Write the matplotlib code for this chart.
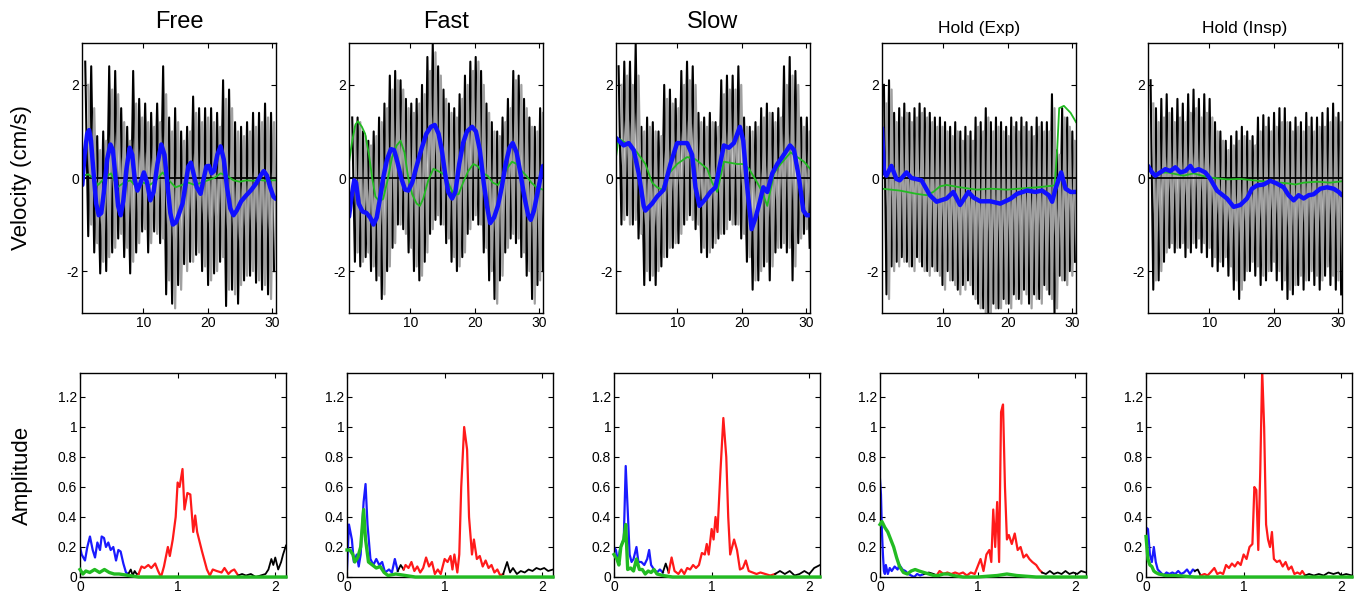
import numpy as np
import matplotlib.pyplot as plt

plt.rcParams['font.family'] = ['Liberation Sans', 'DejaVu Sans']
plt.rcParams['axes.unicode_minus'] = False

TITLES = ['Free', 'Fast', 'Slow', 'Hold (Exp)', 'Hold (Insp)']
TITLE_SIZES = [17, 17, 17, 12.5, 12.5]

# beat grid of the raw velocity trace (first beat, beat period in s)
BEAT_START = [1.0, 1.0, 0.9, 0.8, 0.9]
BEAT_PERIOD = [0.93, 0.833, 0.885, 0.79, 0.833]

# ---------------- raw velocity, beat by beat ----------------
FREE_BLACK_PEAK = [2.5, 2.4, 0.9, 1.0, 2.4, 2.3, 1.5, 1.1, 2.3, 1.7, 1.6, 1.4, 1.6, 2.4, 1.3, 1.5,
                   1.0, 1.1, 1.75, 1.5, 1.5, 1.5, 1.4, 2.1, 1.9, 1.2, 1.1, 1.2, 1.4, 1.4, 1.6, 1.4]
FREE_BLACK_TROUGH = [-1.25, -1.6, -2.05, -2.0, -1.6, -1.3, -1.7, -2.05, -1.6, -1.15, -1.6, -1.15, -1.4, -2.5,
                     -2.7, -2.3, -1.85, -1.8, -1.65, -2.0, -2.3, -2.05, -1.8, -2.75, -2.4, -2.7, -2.2, -2.1,
                     -2.25, -2.4, -2.5, -2.0]
FREE_GRAY_PEAK = [2.0, 1.5, 0.6, 0.8, 1.9, 1.8, 1.2, 0.8, 1.6, 1.3, 1.2, 1.1, 1.2, 1.8, 1.0, 1.2,
                  0.8, 1.0, 1.4, 1.2, 1.3, 1.2, 1.1, 1.7, 1.5, 1.0, 0.9, 1.0, 1.1, 1.2, 1.3, 1.2]
FREE_GRAY_TROUGH = [-1.0, -1.4, -1.8, -1.7, -1.5, -1.2, -1.5, -1.8, -1.4, -1.1, -1.4, -1.2, -1.3, -2.2,
                    -2.8, -2.4, -2.0, -1.8, -1.6, -1.9, -2.2, -2.0, -1.7, -2.4, -2.5, -2.3, -2.1, -2.0,
                    -2.2, -2.3, -2.6, -2.2]

FAST_BLACK_PEAK = [1.3, 1.3, 1.0, 0.8, 1.0, 1.3, 1.6, 2.2, 2.3, 2.1, 1.7, 1.6, 1.7, 2.0, 2.6, 2.9, 2.4, 1.9,
                   1.6, 1.5, 1.8, 2.2, 2.5, 2.6, 2.3, 1.6, 1.2, 1.0, 1.3, 1.7, 2.3, 2.2, 1.7, 1.3, 1.1, 1.5]
FAST_BLACK_TROUGH = [-1.8, -1.9, -1.7, -2.0, -2.2, -2.6, -2.0, -1.5, -1.0, -1.1, -1.6, -2.0, -2.2, -1.8,
                     -1.2, -0.9, -1.0, -1.4, -1.8, -2.0, -1.7, -1.2, -0.9, -1.0, -1.6, -2.2, -2.6, -2.2,
                     -1.6, -1.3, -1.4, -1.7, -2.1, -2.6, -2.3, -2.0]
FAST_GRAY_PEAK = [1.1, 1.2, 0.9, 0.7, 0.9, 1.2, 1.5, 1.9, 2.1, 1.9, 1.5, 1.4, 1.6, 1.8, 2.3, 2.7, 2.2, 1.7,
                  1.4, 1.3, 1.7, 2.0, 2.3, 2.5, 2.0, 1.4, 1.0, 0.9, 1.2, 1.5, 2.1, 2.0, 1.5, 1.1, 1.0, 1.4]
FAST_GRAY_TROUGH = [-1.6, -1.8, -1.6, -1.9, -2.1, -2.5, -1.9, -1.4, -1.0, -1.2, -1.5, -1.9, -2.1, -1.6,
                    -1.1, -0.8, -1.0, -1.3, -1.7, -1.9, -1.6, -1.1, -0.8, -1.0, -1.5, -2.0, -2.7, -2.1,
                    -1.5, -1.2, -1.3, -1.6, -2.0, -2.7, -2.2, -1.9]

SLOW_BLACK_PEAK = [2.4, 2.5, 2.5, 2.9, 1.1, 1.3, 1.2, 1.0, 2.0, 1.9, 1.7, 2.3, 2.5, 2.4, 1.4, 1.3, 1.4,
                   1.2, 2.1, 2.2, 2.2, 2.4, 1.3, 1.1, 1.2, 1.5, 1.6, 1.4, 1.5, 2.4, 2.6, 2.3, 1.3, 1.3]
SLOW_BLACK_TROUGH = [-1.0, -0.8, -1.0, -1.3, -2.3, -2.2, -2.3, -1.9, -1.7, -1.5, -1.4, -1.0, -0.8, -1.1,
                     -1.6, -1.7, -1.5, -1.3, -1.2, -0.9, -1.0, -1.3, -1.8, -2.4, -2.2, -1.9, -2.2, -1.6,
                     -1.5, -1.6, -2.2, -1.4, -1.2, -1.5]
SLOW_GRAY_PEAK = [2.0, 2.2, 2.0, 2.2, 1.0, 1.1, 1.0, 0.9, 1.7, 1.6, 1.5, 2.0, 2.1, 2.0, 1.2, 1.1, 1.2,
                  1.1, 1.8, 1.9, 1.9, 2.0, 1.1, 1.0, 1.1, 1.3, 1.4, 1.2, 1.3, 2.0, 2.2, 2.0, 1.1, 1.0]
SLOW_GRAY_TROUGH = [-0.9, -1.0, -0.9, -1.2, -2.0, -2.1, -2.0, -1.7, -1.5, -1.4, -1.2, -0.9, -0.9, -1.0,
                    -1.5, -1.6, -1.4, -1.2, -1.1, -1.0, -1.0, -1.2, -1.7, -2.2, -2.0, -1.8, -1.9, -1.5,
                    -1.4, -1.5, -1.9, -1.3, -1.1, -1.4]

EXP_BLACK_PEAK = [2.0, 2.1, 1.4, 1.5, 1.6, 1.4, 1.5, 1.6, 1.5, 1.4, 1.3, 1.3, 1.2, 1.1, 1.2, 1.0, 1.1, 1.0,
                  1.3, 1.2, 1.5, 1.2, 1.3, 1.2, 1.1, 1.3, 1.2, 1.3, 1.2, 1.1, 1.3, 1.2, 1.2, 1.8, 0.6, 1.5,
                  1.3, 1.0]
EXP_BLACK_TROUGH = [-2.5, -1.9, -1.8, -1.7, -1.8, -1.9, -1.7, -1.9, -2.0, -1.9, -2.0, -2.3, -2.0, -2.2,
                    -2.4, -2.3, -2.2, -2.5, -2.7, -2.8, -2.9, -2.7, -2.8, -2.6, -2.7, -2.5, -2.6, -2.4,
                    -2.7, -2.5, -2.6, -2.3, -2.5, -2.9, -2.1, -2.2, -2.0, -1.8]
EXP_GRAY_PEAK = [1.6, 1.9, 1.2, 1.3, 1.4, 1.2, 1.3, 1.4, 1.3, 1.2, 1.1, 1.1, 1.0, 0.9, 1.0, 0.8, 0.9, 0.8,
                 1.1, 1.0, 1.3, 1.0, 1.1, 1.0, 0.9, 1.1, 1.0, 1.1, 1.0, 0.9, 1.1, 1.0, 1.0, 1.5, 0.5, 1.3,
                 1.1, 0.8]
EXP_GRAY_TROUGH = [-2.6, -2.0, -1.9, -1.8, -1.9, -2.0, -1.8, -2.0, -2.1, -2.0, -2.1, -2.4, -2.2, -2.3,
                   -2.5, -2.4, -2.3, -2.6, -2.8, -2.9, -2.9, -2.8, -2.8, -2.7, -2.8, -2.6, -2.7, -2.5,
                   -2.8, -2.6, -2.7, -2.4, -2.6, -2.8, -2.2, -2.3, -2.1, -1.9]

INSP_BLACK_PEAK = [2.1, 1.5, 1.7, 1.8, 1.5, 1.7, 1.6, 1.8, 1.9, 1.7, 1.8, 1.7, 1.2, 1.0, 0.8, 0.9, 1.0, 1.1,
                   1.0, 0.9, 1.3, 1.35, 1.3, 1.4, 1.5, 1.5, 1.2, 1.3, 1.2, 1.4, 1.3, 1.3, 1.4, 1.5, 1.6, 1.4]
INSP_BLACK_TROUGH = [-2.4, -2.2, -1.8, -1.5, -1.6, -1.5, -1.7, -1.6, -1.5, -1.6, -1.7, -1.9, -2.0, -1.9,
                     -2.1, -2.4, -2.6, -2.2, -2.0, -2.1, -2.3, -2.2, -2.0, -2.2, -2.4, -2.6, -2.5, -2.3,
                     -2.4, -2.2, -2.3, -2.4, -2.1, -2.3, -2.4, -2.5]
INSP_GRAY_PEAK = [1.6, 1.2, 1.3, 1.4, 1.2, 1.3, 1.2, 1.4, 1.5, 1.3, 1.4, 1.3, 1.0, 0.8, 0.6, 0.7, 0.8, 0.9,
                  0.8, 0.7, 1.0, 1.1, 1.0, 1.1, 1.2, 1.2, 1.0, 1.1, 1.0, 1.1, 1.0, 1.1, 1.1, 1.2, 1.3, 1.2]
INSP_GRAY_TROUGH = [-2.2, -2.0, -1.6, -1.4, -1.5, -1.4, -1.5, -1.4, -1.3, -1.4, -1.5, -1.7, -1.8, -1.7,
                    -1.9, -2.2, -2.4, -2.0, -1.8, -1.9, -2.1, -2.0, -1.8, -2.0, -2.2, -2.4, -2.3, -2.1,
                    -2.2, -2.0, -2.1, -2.2, -1.9, -2.1, -2.2, -2.3]

# ---------------- low-pass (blue) and green traces: (time s, velocity) ----------------
FREE_BLUE = np.array([
    [0.55, -0.15], [0.9, 0.5], [1.3, 0.95], [1.6, 1.03], [1.9, 0.8], [2.3, 0.1], [2.7, -0.55], [3.1, -0.8],
    [3.5, -0.75], [3.9, -0.3], [4.4, 0.4], [4.9, 0.72], [5.3, 0.6], [5.7, 0.0], [6.1, -0.6], [6.5, -0.8],
    [6.9, -0.5], [7.4, 0.2], [7.9, 0.65], [8.3, 0.5], [8.7, -0.05], [9.1, -0.27], [9.6, -0.1], [10.1, 0.12],
    [10.6, -0.1], [11.1, -0.48], [11.6, -0.3], [12.2, 0.3], [12.8, 0.72], [13.3, 0.5], [13.8, -0.2],
    [14.2, -0.75], [14.6, -1.0], [15.1, -0.95], [15.6, -0.75], [16.1, -0.55], [16.6, -0.1], [17.0, 0.25],
    [17.4, 0.33], [17.8, 0.1], [18.3, -0.2], [18.9, -0.34], [19.4, 0.0], [19.8, 0.25], [20.2, 0.26],
    [20.6, 0.1], [21.0, 0.15], [21.5, 0.5], [22.0, 0.68], [22.5, 0.4], [23.0, -0.2], [23.5, -0.65],
    [24.0, -0.8], [24.5, -0.7], [25.2, -0.5], [26.0, -0.37], [26.8, -0.25], [27.6, -0.1], [28.2, 0.05],
    [28.7, 0.15], [29.2, 0.05], [29.7, -0.2], [30.2, -0.4], [30.6, -0.45]])
FREE_GREEN = np.array([
    [0.6, 0.05], [1.5, 0.08], [2.2, 0.0], [3.0, -0.15], [4.0, 0.0], [5.0, 0.1], [6.0, -0.2], [7.0, -0.1],
    [8.0, -0.05], [9.0, -0.2], [10.0, -0.1], [11.0, -0.15], [12.0, -0.05], [13.0, 0.12], [14.0, -0.05],
    [15.0, -0.2], [16.0, -0.15], [17.0, -0.1], [18.0, -0.15], [19.0, -0.1], [20.0, -0.05], [21.0, 0.0],
    [22.0, 0.1], [23.0, 0.05], [24.0, -0.05], [25.0, -0.08], [26.0, -0.05], [27.0, -0.06], [28.0, -0.04],
    [29.0, -0.06], [30.0, -0.05], [30.6, -0.05]])

FAST_BLUE = np.array([
    [0.5, -0.83], [0.9, -0.4], [1.3, -0.05], [1.6, -0.1], [2.0, -0.55], [2.6, -0.72], [3.2, -0.75],
    [3.8, -0.85], [4.3, -1.0], [4.8, -0.85], [5.3, -0.45], [5.8, 0.0], [6.4, 0.4], [7.0, 0.62], [7.5, 0.6],
    [8.0, 0.35], [8.6, 0.0], [9.2, -0.25], [9.7, -0.27], [10.3, -0.1], [11.0, 0.26], [11.8, 0.65],
    [12.5, 0.95], [13.2, 1.1], [13.8, 1.14], [14.4, 0.95], [14.9, 0.6], [15.4, 0.1], [15.9, -0.3],
    [16.5, -0.44], [17.0, -0.3], [17.6, 0.3], [18.2, 0.75], [18.8, 1.0], [19.6, 1.1], [20.2, 1.0],
    [20.8, 0.6], [21.4, -0.1], [21.9, -0.6], [22.4, -0.97], [23.0, -0.85], [23.6, -0.6], [24.2, -0.2],
    [24.8, 0.3], [25.4, 0.65], [25.9, 0.75], [26.5, 0.55], [27.1, 0.1], [27.7, -0.4], [28.3, -0.8],
    [28.7, -0.9], [29.2, -0.7], [29.7, -0.35], [30.2, 0.0], [30.6, 0.26]])
FAST_GREEN = np.array([
    [0.5, 0.33], [1.0, 0.8], [1.5, 1.15], [1.9, 1.22], [2.5, 1.1], [3.0, 0.95], [3.6, 0.5], [4.1, 0.0],
    [4.6, -0.4], [5.2, -0.5], [5.8, -0.45], [6.4, -0.1], [7.2, 0.45], [7.9, 0.7], [8.5, 0.8], [9.1, 0.55],
    [9.7, 0.0], [10.3, -0.35], [11.0, -0.55], [11.5, -0.6], [12.0, -0.45], [12.8, -0.05], [13.6, 0.2],
    [14.3, 0.15], [15.0, 0.1], [15.6, 0.0], [16.2, -0.2], [16.8, -0.35], [17.5, -0.35], [18.2, -0.1],
    [19.0, 0.15], [19.8, 0.3], [20.5, 0.25], [21.3, 0.1], [22.0, 0.05], [22.8, -0.1], [23.6, -0.15],
    [24.3, 0.0], [25.0, 0.2], [25.8, 0.35], [26.5, 0.3], [27.3, 0.15], [28.0, 0.05], [28.8, -0.1],
    [29.6, -0.2], [30.6, -0.25]])

SLOW_BLUE = np.array([
    [0.5, 0.86], [1.69, 0.7], [2.47, 0.75], [3.25, 0.6], [4.02, 0.1], [4.8, -0.6], [5.06, -0.7],
    [6.1, -0.55], [6.87, -0.4], [7.91, -0.25], [8.95, 0.3], [9.98, 0.75], [11.54, 0.75], [12.31, 0.5],
    [12.83, -0.2], [13.45, -0.6], [14.39, -0.45], [15.16, -0.3], [15.94, -0.2], [16.72, 0.35],
    [17.24, 0.7], [18.01, 0.65], [18.79, 0.75], [19.72, 1.1], [20.24, 0.8], [20.86, -0.2], [21.54, -1.1],
    [22.16, -0.85], [22.83, -0.5], [23.35, -0.2], [23.97, -0.3], [24.75, 0.1], [25.53, 0.3], [26.3, 0.45],
    [27.5, 0.7], [28.12, 0.6], [28.89, 0.0], [29.57, -0.7], [30.08, -0.8], [30.6, -0.8]])
SLOW_GREEN = np.array([
    [0.5, 0.45], [0.91, 0.85], [1.69, 0.78], [2.73, 0.7], [3.76, 0.55], [5.06, 0.3], [6.1, -0.1],
    [6.87, -0.2], [7.65, -0.25], [8.43, 0.05], [9.98, 0.3], [11.54, 0.45], [12.83, 0.4], [14.65, 0.2],
    [15.42, -0.1], [16.2, -0.3], [17.24, 0.35], [19.31, 0.3], [20.34, 0.3], [21.12, 0.2], [22.42, -0.1],
    [23.19, -0.3], [23.97, -0.6], [25.0, 0.1], [26.04, 0.3], [27.6, 0.55], [28.63, 0.45], [29.67, 0.35],
    [30.6, 0.2]])

EXP_BLUE = np.array([
    [0.5, 1.07], [0.81, 0.12], [1.18, 0.05], [1.96, 0.26], [2.73, -0.02], [3.25, -0.05], [4.3, 0.12],
    [5.07, 0.0], [6.63, -0.05], [7.93, -0.37], [8.97, -0.51], [10.53, -0.44], [11.57, -0.3], [12.61, -0.58],
    [13.9, -0.3], [14.69, -0.42], [15.73, -0.5], [17.29, -0.5], [18.85, -0.55], [20.4, -0.45],
    [21.45, -0.34], [23.0, -0.27], [24.3, -0.3], [25.34, -0.27], [26.38, -0.37], [26.9, -0.51],
    [27.42, -0.23], [28.3, 0.12], [28.98, -0.23], [29.76, -0.3], [30.6, -0.3]])
EXP_GREEN = np.array([
    [0.5, -0.23], [3.25, -0.27], [5.85, -0.34], [7.41, -0.37], [8.45, -0.3], [9.49, -0.18], [10.53, -0.15],
    [12.61, -0.2], [15.21, -0.25], [17.29, -0.23], [19.89, -0.25], [22.49, -0.22], [24.56, -0.2],
    [26.64, -0.17], [27.27, -0.16], [27.68, 0.6], [27.99, 1.5], [28.72, 1.55], [29.76, 1.4], [30.6, 1.2]])

INSP_BLUE = np.array([
    [0.5, 0.26], [1.12, 0.12], [1.64, 0.05], [2.41, 0.12], [3.19, 0.19], [3.96, 0.15], [4.74, 0.23],
    [5.52, 0.12], [6.29, 0.15], [7.07, 0.26], [7.58, 0.15], [8.36, 0.19], [9.39, 0.12], [10.17, -0.02],
    [11.2, -0.27], [12.75, -0.44], [13.79, -0.62], [14.82, -0.58], [15.86, -0.44], [16.63, -0.23],
    [17.41, -0.16], [18.44, -0.14], [19.48, -0.06], [20.51, -0.12], [21.54, -0.2], [22.32, -0.37],
    [23.1, -0.48], [23.87, -0.37], [24.65, -0.44], [25.42, -0.37], [26.2, -0.35], [27.23, -0.23],
    [28.26, -0.2], [29.3, -0.23], [30.08, -0.3], [30.6, -0.37]])
INSP_GREEN = np.array([
    [0.5, 0.2], [1.38, 0.1], [3.45, 0.12], [6.04, 0.05], [7.58, 0.1], [9.65, 0.02], [12.75, -0.03],
    [14.82, -0.02], [16.89, -0.05], [18.96, -0.08], [21.03, -0.1], [22.58, -0.12], [23.36, -0.14],
    [24.65, -0.1], [26.72, -0.08], [28.79, -0.1], [30.6, -0.07]])

# ---------------- amplitude spectra: (frequency Hz, amplitude) ----------------
FREE_SPEC = np.array([
    [0, 0.2], [0.017, 0.15], [0.051, 0.11], [0.075, 0.2], [0.102, 0.27], [0.13, 0.18], [0.154, 0.13],
    [0.178, 0.23], [0.205, 0.18], [0.222, 0.27], [0.246, 0.26], [0.266, 0.2], [0.29, 0.23], [0.314, 0.18],
    [0.341, 0.2], [0.369, 0.11], [0.393, 0.18], [0.416, 0.17], [0.444, 0.09], [0.471, 0.03], [0.495, 0.02],
    [0.52, 0.05], [0.54, 0.01], [0.56, 0.04], [0.58, 0.02], [0.6, 0.02], [0.63, 0.07], [0.66, 0.06],
    [0.7, 0.08], [0.73, 0.06], [0.77, 0.09], [0.8, 0.04], [0.83, 0.0], [0.86, 0.07], [0.9, 0.2],
    [0.92, 0.14], [0.95, 0.25], [0.98, 0.4], [1.0, 0.63], [1.02, 0.6], [1.05, 0.72], [1.07, 0.45],
    [1.1, 0.56], [1.13, 0.55], [1.16, 0.3], [1.18, 0.41], [1.2, 0.3], [1.25, 0.17], [1.3, 0.05],
    [1.33, 0.01], [1.36, 0.05], [1.4, 0.04], [1.45, 0.03], [1.48, 0.06], [1.52, 0.02], [1.55, 0.04],
    [1.58, 0.05], [1.62, 0.01], [1.66, 0.02], [1.7, 0.01], [1.75, 0.02], [1.8, 0.0], [1.85, 0.01],
    [1.9, 0.02], [1.93, 0.05], [1.96, 0.12], [1.98, 0.08], [2.0, 0.13], [2.03, 0.05], [2.06, 0.1],
    [2.08, 0.15], [2.11, 0.21]])
FREE_SPEC_GREEN = np.array([
    [0, 0.05], [0.03, 0.02], [0.06, 0.04], [0.1, 0.03], [0.15, 0.05], [0.2, 0.03], [0.25, 0.05],
    [0.3, 0.03], [0.35, 0.02], [0.4, 0.02], [0.5, 0.01], [0.6, 0.0], [2.11, 0.0]])

FAST_SPEC = np.array([
    [0, 0.05], [0.02, 0.35], [0.05, 0.25], [0.07, 0.1], [0.1, 0.15], [0.12, 0.07], [0.14, 0.15],
    [0.17, 0.5], [0.19, 0.62], [0.21, 0.35], [0.24, 0.12], [0.27, 0.08], [0.3, 0.12], [0.33, 0.08],
    [0.36, 0.1], [0.39, 0.03], [0.43, 0.05], [0.46, 0.03], [0.49, 0.12], [0.52, 0.04], [0.55, 0.08],
    [0.58, 0.05], [0.6, 0.08], [0.63, 0.06], [0.66, 0.1], [0.69, 0.04], [0.72, 0.07], [0.75, 0.03],
    [0.78, 0.06], [0.81, 0.13], [0.84, 0.07], [0.87, 0.1], [0.9, 0.02], [0.93, 0.05], [0.96, 0.02],
    [1.0, 0.12], [1.03, 0.1], [1.06, 0.14], [1.08, 0.05], [1.1, 0.15], [1.13, 0.03], [1.15, 0.15],
    [1.17, 0.6], [1.2, 1.0], [1.23, 0.85], [1.25, 0.4], [1.28, 0.15], [1.3, 0.25], [1.33, 0.12],
    [1.36, 0.14], [1.39, 0.07], [1.42, 0.11], [1.45, 0.06], [1.48, 0.08], [1.51, 0.03], [1.54, 0.05],
    [1.57, 0.01], [1.6, 0.02], [1.64, 0.1], [1.67, 0.03], [1.7, 0.06], [1.74, 0.02], [1.78, 0.04],
    [1.82, 0.03], [1.86, 0.05], [1.9, 0.04], [1.94, 0.06], [1.98, 0.05], [2.02, 0.06], [2.06, 0.04],
    [2.11, 0.05]])
FAST_SPEC_GREEN = np.array([
    [0, 0.18], [0.03, 0.18], [0.06, 0.15], [0.08, 0.1], [0.11, 0.13], [0.14, 0.2], [0.17, 0.45],
    [0.19, 0.25], [0.22, 0.1], [0.26, 0.08], [0.3, 0.06], [0.34, 0.07], [0.38, 0.03], [0.42, 0.01],
    [0.5, 0.02], [0.6, 0.01], [0.7, 0.0], [2.11, 0.0]])

SLOW_SPEC = np.array([
    [0, 0.2], [0.02, 0.18], [0.04, 0.1], [0.06, 0.18], [0.08, 0.22], [0.1, 0.25], [0.12, 0.74],
    [0.14, 0.45], [0.16, 0.15], [0.18, 0.1], [0.2, 0.12], [0.23, 0.2], [0.25, 0.1], [0.28, 0.1],
    [0.31, 0.08], [0.34, 0.12], [0.36, 0.18], [0.38, 0.08], [0.41, 0.05], [0.44, 0.03], [0.47, 0.05],
    [0.5, 0.03], [0.53, 0.09], [0.56, 0.03], [0.59, 0.13], [0.62, 0.04], [0.66, 0.02], [0.69, 0.05],
    [0.72, 0.02], [0.75, 0.06], [0.78, 0.05], [0.81, 0.08], [0.84, 0.06], [0.87, 0.08], [0.9, 0.16],
    [0.93, 0.15], [0.95, 0.22], [0.97, 0.15], [1.0, 0.32], [1.02, 0.25], [1.04, 0.4], [1.06, 0.3],
    [1.09, 0.7], [1.12, 1.06], [1.15, 0.8], [1.17, 0.4], [1.19, 0.15], [1.21, 0.2], [1.23, 0.25],
    [1.26, 0.18], [1.29, 0.05], [1.32, 0.06], [1.35, 0.11], [1.38, 0.04], [1.42, 0.03], [1.46, 0.02],
    [1.5, 0.03], [1.55, 0.02], [1.6, 0.01], [1.65, 0.02], [1.7, 0.04], [1.75, 0.02], [1.8, 0.04],
    [1.85, 0.01], [1.9, 0.02], [1.95, 0.04], [2.0, 0.02], [2.05, 0.06], [2.11, 0.08]])
SLOW_SPEC_GREEN = np.array([
    [0, 0.15], [0.03, 0.12], [0.05, 0.08], [0.07, 0.2], [0.1, 0.25], [0.12, 0.35], [0.14, 0.05],
    [0.17, 0.06], [0.2, 0.04], [0.23, 0.12], [0.26, 0.05], [0.29, 0.05], [0.32, 0.02], [0.35, 0.04],
    [0.38, 0.03], [0.41, 0.05], [0.44, 0.02], [0.5, 0.01], [0.6, 0.0], [2.11, 0.0]])

EXP_SPEC = np.array([
    [0, 0.65], [0.01, 0.55], [0.02, 0.3], [0.03, 0.15], [0.04, 0.04], [0.05, 0.02], [0.06, 0.08],
    [0.08, 0.02], [0.1, 0.06], [0.12, 0.04], [0.15, 0.07], [0.18, 0.05], [0.2, 0.08], [0.23, 0.05],
    [0.26, 0.04], [0.29, 0.02], [0.32, 0.01], [0.35, 0.0], [0.38, 0.02], [0.41, 0.01], [0.45, 0.02],
    [0.5, 0.03], [0.55, 0.02], [0.58, 0.01], [0.61, 0.04], [0.65, 0.02], [0.69, 0.03], [0.73, 0.02],
    [0.77, 0.03], [0.81, 0.02], [0.85, 0.03], [0.89, 0.01], [0.93, 0.03], [0.97, 0.02], [1.0, 0.07],
    [1.03, 0.12], [1.06, 0.04], [1.09, 0.15], [1.12, 0.18], [1.14, 0.1], [1.16, 0.45], [1.18, 0.2],
    [1.2, 0.5], [1.22, 0.1], [1.24, 1.1], [1.26, 1.15], [1.28, 0.6], [1.3, 0.25], [1.32, 0.28],
    [1.35, 0.22], [1.38, 0.29], [1.41, 0.18], [1.44, 0.2], [1.47, 0.13], [1.5, 0.15], [1.53, 0.12],
    [1.56, 0.1], [1.6, 0.08], [1.63, 0.05], [1.66, 0.03], [1.7, 0.02], [1.74, 0.04], [1.78, 0.02],
    [1.82, 0.03], [1.86, 0.02], [1.9, 0.04], [1.94, 0.02], [1.98, 0.03], [2.02, 0.02], [2.06, 0.04],
    [2.11, 0.03]])
EXP_SPEC_GREEN = np.array([
    [0, 0.35], [0.02, 0.37], [0.05, 0.33], [0.08, 0.3], [0.11, 0.25], [0.14, 0.2], [0.17, 0.13],
    [0.2, 0.07], [0.24, 0.03], [0.28, 0.02], [0.32, 0.04], [0.36, 0.05], [0.4, 0.04], [0.45, 0.03],
    [0.5, 0.02], [0.55, 0.01], [0.6, 0.01], [0.65, 0.02], [0.7, 0.02], [0.75, 0.01], [0.85, 0.0],
    [1.0, 0.0], [1.2, 0.01], [1.3, 0.02], [1.4, 0.01], [1.6, 0.0], [2.11, 0.0]])

INSP_SPEC = np.array([
    [0, 0.33], [0.02, 0.32], [0.04, 0.15], [0.06, 0.1], [0.08, 0.2], [0.1, 0.1], [0.12, 0.05],
    [0.15, 0.03], [0.18, 0.01], [0.21, 0.03], [0.24, 0.02], [0.27, 0.03], [0.3, 0.02], [0.33, 0.04],
    [0.36, 0.02], [0.39, 0.03], [0.42, 0.05], [0.45, 0.02], [0.48, 0.05], [0.5, 0.04], [0.53, 0.05],
    [0.56, 0.01], [0.6, 0.02], [0.63, 0.01], [0.66, 0.03], [0.7, 0.06], [0.73, 0.02], [0.76, 0.03],
    [0.79, 0.02], [0.82, 0.08], [0.85, 0.06], [0.88, 0.09], [0.91, 0.07], [0.94, 0.1], [0.97, 0.08],
    [1.0, 0.15], [1.03, 0.12], [1.06, 0.2], [1.09, 0.22], [1.11, 0.6], [1.13, 0.58], [1.15, 0.18],
    [1.17, 0.7], [1.19, 1.38], [1.21, 1.0], [1.23, 0.35], [1.25, 0.25], [1.27, 0.2], [1.29, 0.3],
    [1.31, 0.12], [1.34, 0.1], [1.37, 0.11], [1.4, 0.07], [1.43, 0.1], [1.46, 0.05], [1.49, 0.07],
    [1.52, 0.02], [1.55, 0.03], [1.58, 0.02], [1.6, 0.04], [1.63, 0.01], [1.67, 0.02], [1.72, 0.01],
    [1.77, 0.02], [1.82, 0.01], [1.87, 0.03], [1.92, 0.02], [1.97, 0.03], [2.0, 0.01], [2.05, 0.02],
    [2.11, 0.01]])
INSP_SPEC_GREEN = np.array([
    [0, 0.27], [0.02, 0.12], [0.04, 0.08], [0.06, 0.07], [0.08, 0.04], [0.1, 0.03], [0.13, 0.02],
    [0.2, 0.01], [0.3, 0.01], [0.5, 0.0], [2.11, 0.0]])

# band edges of the spectrum colouring: blue | black | red | black
BANDS = [(0.495, 0.6, 1.62), (0.52, 0.58, 1.6), (0.5, 0.56, 1.65), (0.45, 0.58, 1.66), (0.5, 0.56, 1.63)]

BLACK_PEAKS = [FREE_BLACK_PEAK, FAST_BLACK_PEAK, SLOW_BLACK_PEAK, EXP_BLACK_PEAK, INSP_BLACK_PEAK]
BLACK_TROUGHS = [FREE_BLACK_TROUGH, FAST_BLACK_TROUGH, SLOW_BLACK_TROUGH, EXP_BLACK_TROUGH, INSP_BLACK_TROUGH]
GRAY_PEAKS = [FREE_GRAY_PEAK, FAST_GRAY_PEAK, SLOW_GRAY_PEAK, EXP_GRAY_PEAK, INSP_GRAY_PEAK]
GRAY_TROUGHS = [FREE_GRAY_TROUGH, FAST_GRAY_TROUGH, SLOW_GRAY_TROUGH, EXP_GRAY_TROUGH, INSP_GRAY_TROUGH]
BLUES = [FREE_BLUE, FAST_BLUE, SLOW_BLUE, EXP_BLUE, INSP_BLUE]
GREENS = [FREE_GREEN, FAST_GREEN, SLOW_GREEN, EXP_GREEN, INSP_GREEN]
SPECS = [FREE_SPEC, FAST_SPEC, SLOW_SPEC, EXP_SPEC, INSP_SPEC]
SPEC_GREENS = [FREE_SPEC_GREEN, FAST_SPEC_GREEN, SLOW_SPEC_GREEN, EXP_SPEC_GREEN, INSP_SPEC_GREEN]

W, H = 1358, 597
TOP_LEFT = [82, 349, 616, 882, 1148]
BOT_LEFT = [80, 347, 614, 880, 1146]


def zigzag(start, period, peaks, troughs, shift):
    n = len(peaks)
    beats = start + shift + period * np.arange(n)
    t = np.empty(2 * n)
    v = np.empty(2 * n)
    t[0::2] = beats
    t[1::2] = beats + period / 2
    v[0::2] = peaks
    v[1::2] = troughs
    return t, v


def style_axes(ax):
    ax.tick_params(direction='in', top=True, right=True, length=3.5, width=0.8,
                   labelsize=10, pad=2)
    for s in ax.spines.values():
        s.set_linewidth(1.0)


fig = plt.figure(figsize=(W / 100, H / 100), dpi=100)

for i in range(5):
    # ---- top row: velocity
    ax = fig.add_axes([TOP_LEFT[i] / W, 1 - 313 / H, 194 / W, 270 / H])
    p = BEAT_PERIOD[i]
    tb, vb = zigzag(BEAT_START[i], p, BLACK_PEAKS[i], BLACK_TROUGHS[i], 0.0)
    tg, vg = zigzag(BEAT_START[i], p, GRAY_PEAKS[i], GRAY_TROUGHS[i], p * 0.5)
    ax.plot(tb, vb, color='black', lw=1.5)
    ax.plot(tg, vg, color='#a0a0a0', lw=1.6)
    ax.axhline(0, color='black', lw=1.3)
    ax.plot(GREENS[i][:, 0], GREENS[i][:, 1], color='#22bb22', lw=1.3)
    ax.plot(BLUES[i][:, 0], BLUES[i][:, 1], color='#1010ff', lw=3.2,
            solid_joinstyle='round', solid_capstyle='round')
    ax.set_xlim(0.5, 30.6)
    ax.set_ylim(-2.9, 2.9)
    ax.set_xticks([10, 20, 30])
    ax.set_yticks([-2, 0, 2])
    style_axes(ax)
    cx = (TOP_LEFT[i] + 97) / W
    fig.text(cx, 1 - (22 if TITLE_SIZES[i] > 15 else 28) / H, TITLES[i],
             ha='center', va='center', fontsize=TITLE_SIZES[i])

    # ---- bottom row: spectra
    ax2 = fig.add_axes([BOT_LEFT[i] / W, 1 - 577 / H, 206 / W, 204 / H])
    f, a = SPECS[i][:, 0], SPECS[i][:, 1]
    b1, b2, b3 = BANDS[i]
    segs = [(f <= b1, '#1a1aff'), ((f >= b1) & (f <= b2), 'black'),
            ((f >= b2) & (f <= b3), '#ff1a1a'), (f >= b3, 'black')]
    for m, c in segs:
        ax2.plot(f[m], a[m], color=c, lw=1.3 if c == 'black' else 1.6)
    g = SPEC_GREENS[i]
    ax2.plot(g[:, 0], g[:, 1], color='#22bb22', lw=2.4, clip_on=False, zorder=3)
    ax2.set_xlim(0, 2.11)
    ax2.set_ylim(0, 1.36)
    ax2.set_xticks([0, 1, 2])
    ax2.set_yticks([0, 0.2, 0.4, 0.6, 0.8, 1, 1.2])
    ax2.set_yticklabels(['0', '0.2', '0.4', '0.6', '0.8', '1', '1.2'])
    style_axes(ax2)

fig.text(22 / W, 1 - 178 / H, 'Velocity (cm/s)', rotation=90, ha='center', va='center', fontsize=16)
fig.text(22 / W, 1 - 475 / H, 'Amplitude', rotation=90, ha='center', va='center', fontsize=16)

fig.savefig('out.png', dpi=100)
